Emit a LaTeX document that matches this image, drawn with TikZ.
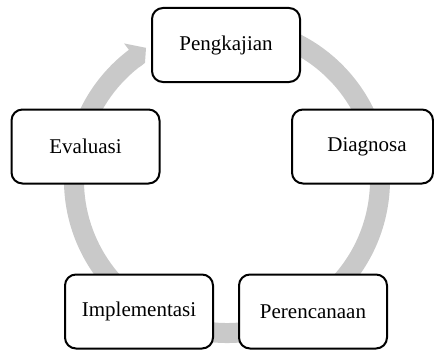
\documentclass[tikz,border=0pt]{standalone}
\usepackage{fontspec}
\setmainfont{Liberation Serif}
\usetikzlibrary{calc}
\definecolor{ringgray}{HTML}{C9C9C9}
\tikzset{
  stagebox/.style={draw=black, line width=2pt, rounded corners=11pt, fill=white,
    minimum width=148pt, minimum height=74pt, inner sep=0pt,
    font=\fontsize{21}{25}\selectfont},
  ring/.style={draw=ringgray, line width=20pt},
  ringhead/.style={fill=ringgray, draw=none}
}
\begin{document}
\begin{tikzpicture}[x=1pt,y=1pt]
\useasboundingbox (0,0) rectangle (434,349);
\coordinate (c) at (227,169);
% ring arrow
\draw[ring] ($(c)+(80:153)$) arc[start angle=80, end angle=-234, radius=153];
\fill[ringhead] ($(c)+(125:143)$) -- ($(c)+(121.5:155)$) -- ($(c)+(127:171)$)
  -- ($(c)+(127:162)$) -- ($(c)+(128:143)$) -- cycle;
% stages
\node[stagebox] (peng) at (226,304) {Pengkajian};
\node[stagebox, minimum width=141pt] (diag) at (362.5,202.5) {\hspace*{9pt}Diagnosa};
\node[stagebox] (pere) at (313,37.5) {Perencanaan};
\node[stagebox] (impl) at (139,37.5) {Implementasi};
\node[stagebox] (eval) at (85.5,202.5) {Evaluasi};
\end{tikzpicture}
\end{document}
